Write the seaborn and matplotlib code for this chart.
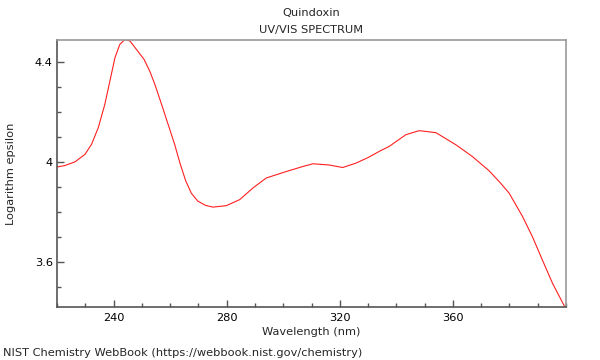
import matplotlib
matplotlib.use("Agg")
import matplotlib.pyplot as plt
import seaborn as sns
import pandas as pd
from matplotlib.ticker import MultipleLocator

sns.set_theme(style="white")
plt.rcParams['font.family'] = ['DejaVu Sans']

wavelength = [220, 222.8, 226.4, 229.9, 232.2, 234.6, 236.9, 238.7, 240.5, 242.2,
              244.0, 245.8, 248.1, 250.8, 252.8, 254.6, 257.0, 259.3, 261.6, 263.5,
              265.5, 267.5, 269.8, 272.5, 275.2, 279.9, 284.6, 289.3, 294.0, 301.1, 306.9,
              310.5, 316.4, 321.0, 325.8, 330.0, 334.0, 337.5, 343.4, 348.1, 354.0,
              361.1, 366.9, 372.8, 376.5, 379.9, 384.6, 388.1, 391.6, 395.2, 399.5]
log_eps = [3.980, 3.986, 4.001, 4.031, 4.071, 4.138, 4.231, 4.325, 4.419, 4.472,
           4.492, 4.486, 4.452, 4.412, 4.365, 4.312, 4.231, 4.151, 4.071, 3.995,
           3.925, 3.875, 3.843, 3.826, 3.819, 3.825, 3.849, 3.896, 3.936, 3.962, 3.982,
           3.993, 3.988, 3.978, 3.996, 4.018, 4.043, 4.063, 4.110, 4.126, 4.118,
           4.069, 4.022, 3.965, 3.920, 3.875, 3.782, 3.701, 3.608, 3.514, 3.420]
xticks = [240, 280, 320, 360]
yticks = [3.6, 4.0, 4.4]
ytick_labels = ["3.6", "4", "4.4"]

df = pd.DataFrame({"Wavelength": wavelength, "LogEps": log_eps})

fig = plt.figure(figsize=(6, 3.6), dpi=100)
ax = fig.add_axes([57/600, 1-307/360, (566-57)/600, (307-40)/360])
sns.lineplot(data=df, x="Wavelength", y="LogEps", ax=ax, color="#ff2020",
             linewidth=0.8, sort=False)

ax.set_xlim(220, 400)
ax.set_ylim(3.418, 4.49)
ax.set_xticks(xticks)
ax.set_xticklabels([str(t) for t in xticks])
ax.set_yticks(yticks)
ax.set_yticklabels(ytick_labels)
ax.xaxis.set_minor_locator(MultipleLocator(10))
ax.yaxis.set_minor_locator(MultipleLocator(0.1))
ax.tick_params(which="both", direction="in", bottom=True, left=True, top=False, right=False,
               colors="#555555", labelcolor="black", labelsize=8.2, width=1)
ax.tick_params(which="major", length=5)
ax.tick_params(which="minor", length=3)
ax.tick_params(axis="x", pad=4)
ax.tick_params(axis="y", pad=3)
for s in ax.spines.values():
    s.set_visible(True)
    s.set_color("#999999")
    s.set_linewidth(1.2)
ax.spines["left"].set_color("#555555")
ax.spines["bottom"].set_color("#555555")

ax.set_xlabel("Wavelength (nm)", fontsize=8.2)
ax.xaxis.set_label_coords(0.5, -(332-307)/267, transform=ax.transAxes)
ax.set_ylabel("Logarithm epsilon", fontsize=8.2)
ax.yaxis.set_label_coords(-(57-11)/509, 0.5, transform=ax.transAxes)
ax.yaxis.label.set_va("center")
ax.xaxis.label.set_va("center")
fig.text(311.5/600, 1-13/360, "Quindoxin", fontsize=8.2, ha="center", va="center")
fig.text(311.5/600, 1-30/360, "UV/VIS SPECTRUM", fontsize=8.2, ha="center", va="center")
fig.text(3/600, 1-353/360, "NIST Chemistry WebBook (https://webbook.nist.gov/chemistry)",
         fontsize=8.2, ha="left", va="center")

fig.savefig("out.png", dpi=100)
